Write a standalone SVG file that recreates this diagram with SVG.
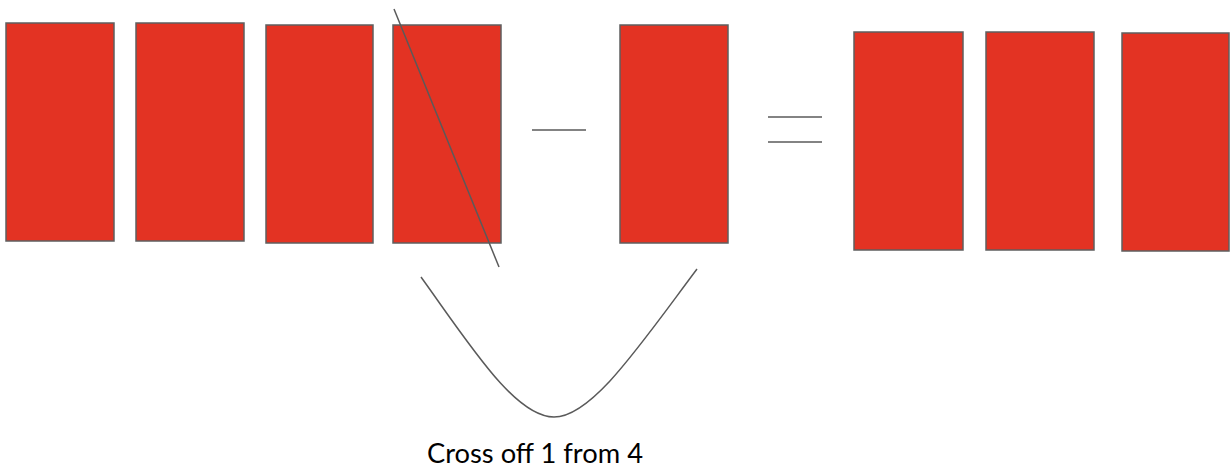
<svg xmlns="http://www.w3.org/2000/svg" width="1230" height="467" viewBox="0 0 1230 467">
<style>
.blk{fill:#e33323;stroke:#5f5f5f;stroke-width:1.5}
.ln{fill:none;stroke:#5a5a5a;stroke-width:1.5}
.lbl{font-family:Lato,"Liberation Sans",sans-serif;font-size:26px;fill:#000}
</style>
<rect width="1230" height="467" fill="#fff"/>
<g id="block1"><rect class="blk" x="6" y="23" width="108" height="218"/></g>
<g id="block2"><rect class="blk" x="136" y="23" width="108" height="218"/></g>
<g id="block3"><rect class="blk" x="266" y="25" width="107" height="218"/></g>
<g id="block4"><rect class="blk" x="393" y="25" width="108" height="218"/></g>
<g id="block5"><rect class="blk" x="620" y="25" width="108" height="218"/></g>
<g id="block6"><rect class="blk" x="854" y="32" width="109" height="218"/></g>
<g id="block7"><rect class="blk" x="986" y="32" width="108" height="218"/></g>
<g id="block8"><rect class="blk" x="1122" y="33" width="107" height="218"/></g>
<g id="connectors">
<line class="ln" x1="394" y1="9" x2="499" y2="267"/>
<line class="ln" x1="532" y1="130" x2="586" y2="130"/>
<line class="ln" x1="768" y1="117" x2="822" y2="117"/>
<line class="ln" x1="768" y1="142" x2="822" y2="142"/>
<path class="ln" d="M421,277 C470,345 515,417 554,417 C592,417 640,345 697,269"/>
</g>
<g id="label"><text class="lbl" x="427" y="463" textLength="216" lengthAdjust="spacingAndGlyphs">Cross off 1 from 4</text></g>
</svg>
